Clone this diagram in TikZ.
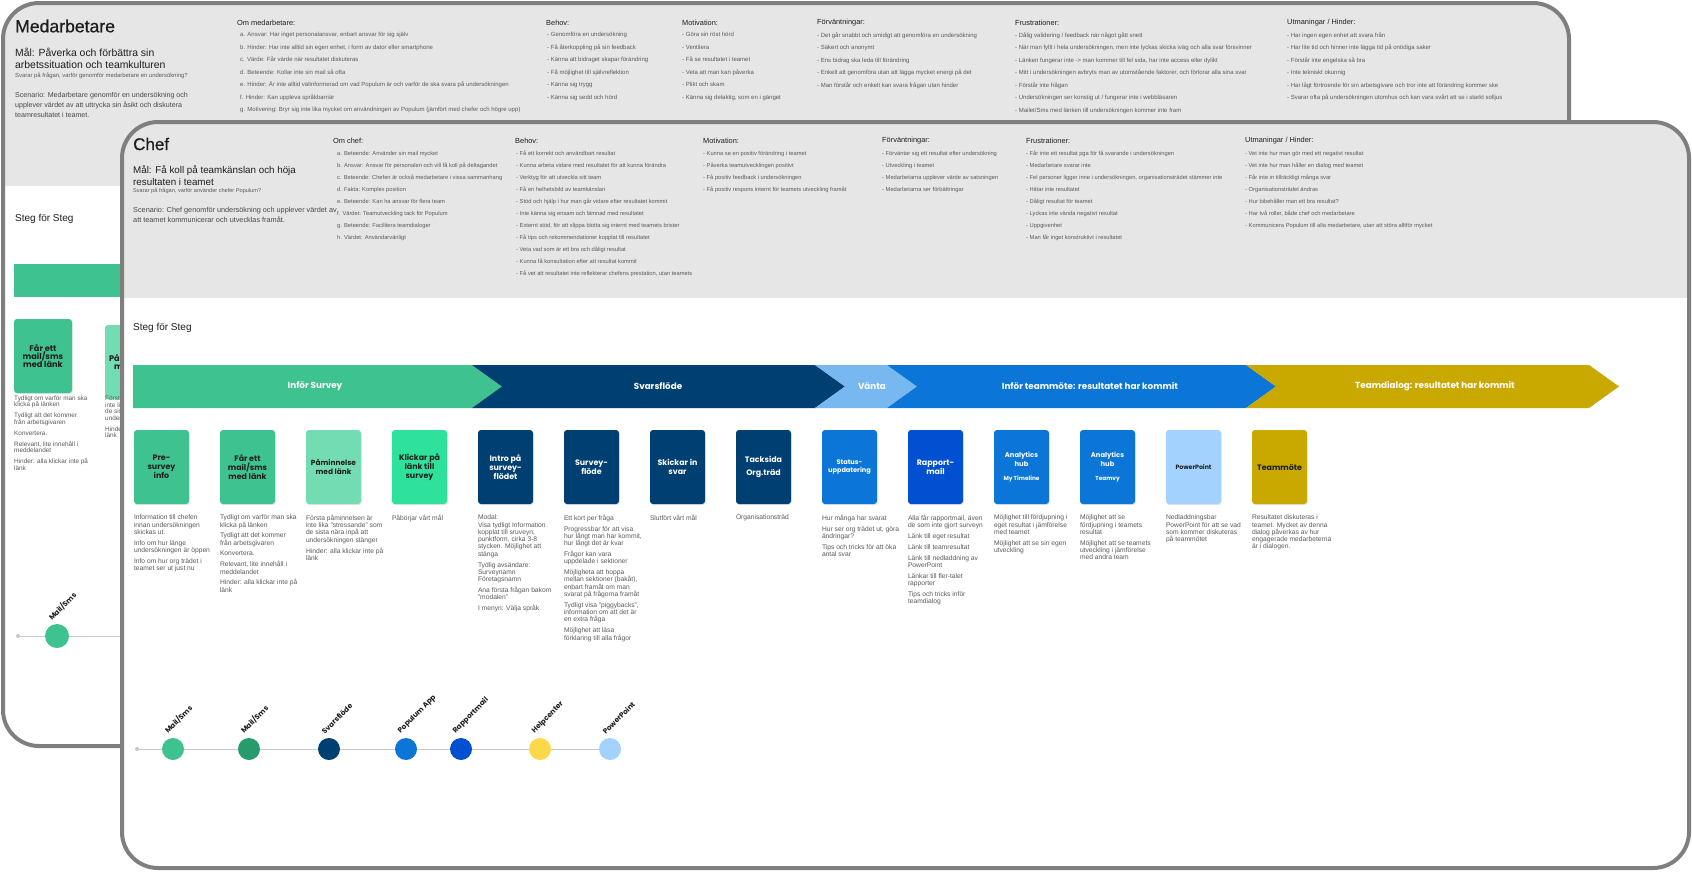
\documentclass[tikz,border=0pt]{standalone}
\usepackage{fontspec}
\setmainfont{Liberation Sans}
\newfontfamily\boxfont{Poppins}
\newfontfamily\titlefont[FakeBold=0.6]{Liberation Sans}
\usetikzlibrary{calc,shadows}
\definecolor{hdr}{HTML}{E6E6E6}
\definecolor{brd}{HTML}{7F7F7F}
\definecolor{gA}{HTML}{3EC28F}
\definecolor{gB}{HTML}{74DCB2}
\definecolor{gC}{HTML}{2EE29B}
\definecolor{gD}{HTML}{279B6C}
\definecolor{nv}{HTML}{003F72}
\definecolor{lb}{HTML}{78B8F0}
\definecolor{bl}{HTML}{0B76D8}
\definecolor{rb}{HTML}{0050D1}
\definecolor{pp}{HTML}{A3D2FF}
\definecolor{gd}{HTML}{C9A800}
\definecolor{yl}{HTML}{FFD84A}
\definecolor{txt}{HTML}{1E1E1E}
\definecolor{itm}{HTML}{5A5A5A}
\definecolor{tline}{HTML}{C8C8C8}
\tikzset{
  lbl/.style={anchor=west, inner sep=0pt, text=txt},
  hd/.style={lbl, font=\fontsize{7.4}{8}\selectfont},
  lstA/.style={anchor=north west, inner sep=0pt, align=left, text=itm, font=\fontsize{6.0}{12.5}\selectfont},
  lstB/.style={anchor=north west, inner sep=0pt, align=left, text=itm, font=\fontsize{5.75}{12}\selectfont},
  stepbox/.style={minimum width=55pt, minimum height=74pt, rounded corners=3pt, inner sep=0pt, align=center,
     font=\boxfont\bfseries\fontsize{7.9}{8.8}\selectfont, drop shadow={opacity=0.2, shadow xshift=0.6pt, shadow yshift=-1.2pt}},
  desc/.style={anchor=north west, inner sep=0pt, align=left, text=itm, font=\fontsize{6.7}{7.3}\selectfont},
  bdesc/.style={desc, font=\fontsize{6.4}{6.5}\selectfont},
  band/.style={inner sep=0pt, text=white, font=\boxfont\bfseries\fontsize{8.8}{9}\selectfont},
  dotc/.style={circle, inner sep=0pt, minimum size=22pt},
  smalldot/.style={circle, fill=tline, inner sep=0pt, minimum size=4pt},
  clab/.style={anchor=south west, rotate=45, inner sep=0pt, text=txt, font=\boxfont\bfseries\fontsize{7.2}{8}\selectfont},
  tl/.style={draw=tline, line width=0.8pt}
}
\begin{document}
\begin{tikzpicture}[x=1pt,y=-1pt]
\useasboundingbox (0,0) rectangle (1692,871);
% ================= BACK CARD =================
\begin{scope}
\clip[rounded corners=36pt] (3,3) rectangle (1569,746);
\fill[white] (3,3) rectangle (1569,746);
\fill[hdr] (3,3) rectangle (1569,186);
\end{scope}
\node[lbl, font=\titlefont\fontsize{17.6}{20}\selectfont] (mtitle) at (15,26) {Medarbetare};
\node[anchor=north west, inner sep=0pt, align=left, text=txt, font=\fontsize{10.4}{11.8}\selectfont] (mmal) at (15,48) {Mål: Påverka och förbättra sin\\arbetssituation och teamkulturen};
\node[anchor=base west, inner sep=0pt, text=itm, font=\fontsize{5.9}{6}\selectfont] (msv) at (15,77.3) {Svarar på frågan, varför genomför medarbetare en undersökning?};
\node[anchor=north west, inner sep=0pt, align=left, text=itm!80!black, font=\fontsize{7.1}{10}\selectfont] (msc) at (15,92) {Scenario: Medarbetare genomför en undersökning och\\upplever värdet av att uttrycka sin åsikt och diskutera\\teamresultatet i teamet.};
\node[hd] (mh1) at (237,23) {Om medarbetare:};
\node[lstA] (ml1) at (240,32) {a. Ansvar: Har inget personalansvar, enbart ansvar för sig själv\\b. Hinder: Har inte alltid sin egen enhet, i form av dator eller smartphone\\c. Värde: Får värde när resultatet diskuteras\\d. Beteende: Kollar inte sin mail så ofta\\e. Hinder: Är inte alltid välinformerad om vad Populum är och varför de ska svara på undersökningen\\f. Hinder: Kan uppleva språkbarriär\\g. Motivering: Bryr sig inte lika mycket om användningen av Populum (jämfört med chefer och högre upp)};
\node[hd] (mh2) at (546,23) {Behov:};
\node[lstA] (ml2) at (547,32) {- Genomföra en undersökning\\- Få återkoppling på sin feedback\\- Känna att bidraget skapar förändring\\- Få möjlighet till självreflektion\\- Känna sig trygg\\- Känna sig sedd och hörd};
\node[hd] (mh3) at (682,23) {Motivation:};
\node[lstA] (ml3) at (682,32) {- Göra sin röst hörd\\- Ventilera\\- Få se resultatet i teamet\\- Veta att man kan påverka\\- Plikt och skam\\- Känna sig delaktig, som en i gänget};
\node[hd] (mh4) at (817,23) {Förväntningar:};
\node[lstA] (ml4) at (817,32) {- Det går snabbt och smidigt att genomföra en undersökning\\- Säkert och anonymt\\- Ens bidrag ska leda till förändring\\- Enkelt att genomföra utan att lägga mycket energi på det\\- Man förstår och enkelt kan svara frågan utan hinder};
\node[hd] (mh5) at (1015,23) {Frustrationer:};
\node[lstA] (ml5) at (1015,32) {- Dålig validering / feedback när något gått snett\\- När man fyllt i hela undersökningen, men inte lyckas skicka iväg och alla svar försvinner\\- Länken fungerar inte -> man kommer till fel sida, har inte access eller dylikt\\- Mitt i undersökningen avbryts man av utomstående faktorer, och förlorar alla sina svar\\- Förstår inte frågan\\- Undersökningen ser konstig ut / fungerar inte i webbläsaren\\- Mailet/Sms med länken till undersökningen kommer inte fram};
\node[hd] (mh6) at (1287,23) {Utmaningar / Hinder:};
\node[lstA] (ml6) at (1287,32) {- Har ingen egen enhet att svara från\\- Har lite tid och hinner inte lägga tid på onödiga saker\\- Förstår inte engelska så bra\\- Inte tekniskt okunnig\\- Har lågt förtroende för sin arbetsgivare och tror inte att förändring kommer ske\\- Svarar ofta på undersökningen utomhus och kan vara svårt att se i starkt solljus};
\node[lbl, font=\fontsize{10}{11}\selectfont] (msteg) at (15,219) {Steg för Steg};
\fill[gA] (14,264) rectangle (330,297);
\node[stepbox, fill=gA, text=txt, minimum width=58pt, font=\boxfont\bfseries\fontsize{8.2}{8.4}\selectfont] (mb1) at (43,356) {Får ett\\mail/sms\\med länk};
\node[stepbox, fill=gB, text=txt, minimum width=58pt, font=\boxfont\bfseries\fontsize{8.2}{8.4}\selectfont] (mb2) at (134,362) {Påminnelse\\med länk};
\node[bdesc] (md1) at (14,395.5) {Tydligt om varför man ska\\klicka på länken\\[4.5pt]Tydligt att det kommer\\från arbetsgivaren\\[4.5pt]Konvertera.\\[4.5pt]Relevant, lite innehåll i\\meddelandet\\[4.5pt]Hinder: alla klickar inte på\\länk};
\node[bdesc] (md2) at (105,395.5) {Första påminnelsen är\\inte lika "stressande" som\\de sista nära inpå att\\undersökningen stänger\\[4.5pt]Hinder: alla klickar inte på\\länk};
\node[smalldot] (mdot) at (18,636) {};
\node[dotc, fill=gA, minimum size=24pt] (mc1) at (57,636) {};
\coordinate (mend) at (200,636);
\draw[tl] (mdot) -- (mc1) -- (mend);
\node[clab] (mcl1) at ($(mc1)+(-4,-14)$) {Mail/Sms};
\draw[brd, line width=4pt, rounded corners=36pt] (3,3) rectangle (1569,746);
% ================= FRONT CARD =================
\begin{scope}
\clip[rounded corners=36pt] (122,122) rectangle (1689,868);
\fill[white] (122,122) rectangle (1689,868);
\fill[hdr] (122,122) rectangle (1689,298);
\end{scope}
\node[lbl, font=\titlefont\fontsize{17}{20}\selectfont] (ctitle) at (133,144) {Chef};
\node[anchor=north west, inner sep=0pt, align=left, text=txt, font=\fontsize{9.8}{11.7}\selectfont] (cmal) at (133,165.5) {Mål: Få koll på teamkänslan och höja\\resultaten i teamet};
\node[anchor=base west, inner sep=0pt, text=itm, font=\fontsize{5.6}{6}\selectfont] (csv) at (133,192.7) {Svarar på frågan, varför använder chefer Populum?};
\node[anchor=north west, inner sep=0pt, align=left, text=itm!80!black, font=\fontsize{7.3}{9.6}\selectfont] (csc) at (133,207) {Scenario: Chef genomför undersökning och upplever värdet av\\att teamet kommunicerar och utvecklas framåt.};
\node[hd] (ch1) at (333,141) {Om chef:};
\node[lstB] (cl1) at (337,151) {a. Beteende: Använder sin mail mycket\\b. Ansvar: Ansvar för personalen och vill få koll på deltagandet\\c. Beteende: Chefen är också medarbetare i vissa sammanhang\\d. Fakta: Komplex position\\e. Beteende: Kan ha ansvar för flera team\\f. Värdet: Teamutveckling tack för Populum\\g. Beteende: Facilitera teamdialoger\\h. Värdet: Användarvänligt};
\node[hd] (ch2) at (515,141) {Behov:};
\node[lstB] (cl2) at (516,151) {- Få ett korrekt och användbart resultat\\- Kunna arbeta vidare med resultatet för att kunna förändra\\- Verktyg för att utveckla sitt team\\- Få en helhetsbild av teamkänslan\\- Stöd och hjälp i hur man går vidare efter resultatet kommit\\- Inte känna sig ensam och lämnad med resultatet\\- Externt stöd, för att slippa blotta sig internt med teamets brister\\- Få tips och rekommendationer kopplat till resultatet\\- Veta vad som är ett bra och dåligt resultat\\- Kunna få konsultation efter att resultat kommit\\- Få vet att resultatet inte reflekterar chefens prestation, utan teamets};
\node[hd] (ch3) at (703,141) {Motivation:};
\node[lstB] (cl3) at (703,151) {- Kunna se en positiv förändring i teamet\\- Påverka teamutvecklingen positivt\\- Få positiv feedback i undersökningen\\- Få positiv respons internt för teamets utveckling framåt};
\node[hd] (ch4) at (882,141) {Förväntningar:};
\node[lstB] (cl4) at (882,151) {- Förväntar sig ett resultat efter undersökning\\- Utveckling i teamet\\- Medarbetarna upplever värde av satsningen\\- Medarbetarna ser förbättringar};
\node[hd] (ch5) at (1026,141) {Frustrationer:};
\node[lstB] (cl5) at (1026,151) {- Får inte ett resultat pga för få svarande i undersökningen\\- Medarbetare svarar inte\\- Fel personer ligger inne i undersökningen, organisationsträdet stämmer inte\\- Hittar inte resultatet\\- Dåligt resultat för teamet\\- Lyckas inte vända negativt resultat\\- Uppgivenhet\\- Man får inget konstruktivt i resultatet};
\node[hd] (ch6) at (1245,141) {Utmaningar / Hinder:};
\node[lstB] (cl6) at (1245,151) {- Vet inte hur man gör med ett negativt resultat\\- Vet inte hur man håller en dialog med teamet\\- Får inte in tillräckligt många svar\\- Organisationsträdet ändras\\- Hur bibehåller man ett bra resultat?\\- Har två roller, både chef och medarbetare\\- Kommunicera Populum till alla medarbetare, utan att störa alltför mycket};
\node[lbl, font=\fontsize{10}{11}\selectfont] (csteg) at (133,328) {Steg för Steg};
% phase band
\fill[gA] (133,365) -- (472,365) -- (502,386.5) -- (472,408) -- (133,408) -- cycle;
\fill[nv] (472,365) -- (815,365) -- (845,386.5) -- (815,408) -- (472,408) -- (502,386.5) -- cycle;
\fill[lb] (815,365) -- (887,365) -- (917,386.5) -- (887,408) -- (815,408) -- (845,386.5) -- cycle;
\fill[bl] (887,365) -- (1246,365) -- (1276,386.5) -- (1246,408) -- (887,408) -- (917,386.5) -- cycle;
\fill[gd] (1246,365) -- (1589,365) -- (1619,386.5) -- (1589,408) -- (1246,408) -- (1276,386.5) -- cycle;
\node[band] (p1) at (315,386.5) {Inför Survey};
\node[band] (p2) at (658,386.5) {Svarsflöde};
\node[band] (p3) at (872,386.5) {Vänta};
\node[band] (p4) at (1090,386.5) {Inför teammöte: resultatet har kommit};
\node[band] (p5) at (1435,386.5) {Teamdialog: resultatet har kommit};
% step boxes
\node[stepbox, fill=gA, text=txt] (b1) at (161.5,467) {Pre-\\survey\\info};
\node[stepbox, fill=gA, text=txt] (b2) at (247.5,467) {Får ett\\mail/sms\\med länk};
\node[stepbox, fill=gB, text=txt, font=\boxfont\bfseries\fontsize{7.4}{8.4}\selectfont] (b3) at (333.5,467) {Påminnelse\\med länk};
\node[stepbox, fill=gC, text=txt] (b4) at (419.5,467) {Klickar på\\länk till\\survey};
\node[stepbox, fill=nv, text=white] (b5) at (505.5,467) {Intro på\\survey-\\flödet};
\node[stepbox, fill=nv, text=white] (b6) at (591.5,467) {Survey-\\flöde};
\node[stepbox, fill=nv, text=white] (b7) at (677.5,467) {Skickar in\\svar};
\node[stepbox, fill=nv, text=white] (b8) at (763.5,467) {Tacksida\\[4pt]Org.träd};
\node[stepbox, fill=bl, text=white, font=\boxfont\bfseries\fontsize{6.6}{8}\selectfont] (b9) at (849.5,467) {Status-\\uppdatering};
\node[stepbox, fill=rb, text=white] (b10) at (935.5,467) {Rapport-\\mail};
\node[stepbox, fill=bl, text=white, font=\boxfont\bfseries\fontsize{6.8}{8.6}\selectfont] (b11) at (1021.5,467) {Analytics\\hub\\[5pt]{\fontsize{5.8}{6}\selectfont My Timeline}};
\node[stepbox, fill=bl, text=white, font=\boxfont\bfseries\fontsize{6.8}{8.6}\selectfont] (b12) at (1107.5,467) {Analytics\\hub\\[5pt]{\fontsize{5.8}{6}\selectfont Teamvy}};
\node[stepbox, fill=pp, text=txt, font=\boxfont\bfseries\fontsize{6.2}{7}\selectfont] (b13) at (1193.5,467) {PowerPoint};
\node[stepbox, fill=gd, text=txt] (b14) at (1279.5,467) {Teammöte};
% descriptions
\node[desc] (d1) at ($(b1.south west)+(0,10.5)$) {Information till chefen\\innan undersökningen\\skickas ut.\\[3.5pt]Info om hur länge\\undersökningen är öppen\\[3.5pt]Info om hur org trädet i\\teamet ser ut just nu};
\node[desc] (d2) at ($(b2.south west)+(0,10.5)$) {Tydligt om varför man ska\\klicka på länken\\[3.5pt]Tydligt att det kommer\\från arbetsgivaren\\[3.5pt]Konvertera.\\[3.5pt]Relevant, lite innehåll i\\meddelandet\\[3.5pt]Hinder: alla klickar inte på\\länk};
\node[desc] (d3) at ($(b3.south west)+(0,10.5)$) {Första påminnelsen är\\inte lika "stressande" som\\de sista nära inpå att\\undersökningen stänger\\[3.5pt]Hinder: alla klickar inte på\\länk};
\node[desc] (d4) at ($(b4.south west)+(0,10.5)$) {Påbörjar vårt mål};
\node[desc] (d5) at ($(b5.south west)+(0,10.5)$) {Modal:\\Visa tydligt Information\\kopplat till sruveyn,\\punktform, cirka 3-8\\stycken. Möjlighet att\\stänga\\[3.5pt]Tydlig avsändare:\\Surveynamn\\Företagsnamn\\[3.5pt]Ana första frågan bakom\\"modalen"\\[3.5pt]I menyn: Välja språk};
\node[desc] (d6) at ($(b6.south west)+(0,10.5)$) {Ett kort per fråga\\[3.5pt]Progressbar för att visa\\hur långt man har kommit,\\hur långt det är kvar\\[3.5pt]Frågor kan vara\\uppdelade i sektioner\\[3.5pt]Möjligheta att hoppa\\mellan sektioner (bakåt),\\enbart framåt om man\\svarat på frågorna framåt\\[3.5pt]Tydligt visa "piggybacks",\\information om att det är\\en extra fråga\\[3.5pt]Möjlighet att läsa\\förklaring till alla frågor};
\node[desc] (d7) at ($(b7.south west)+(0,10.5)$) {Slutfört vårt mål};
\node[desc] (d8) at ($(b8.south west)+(0,10.5)$) {Organisationsträd};
\node[desc] (d9) at ($(b9.south west)+(0,10.5)$) {Hur många har svarat\\[3.5pt]Hur ser org trädet ut, göra\\ändringar?\\[3.5pt]Tips och tricks för att öka\\antal svar};
\node[desc] (d10) at ($(b10.south west)+(0,10.5)$) {Alla får rapportmail, även\\de som inte gjort surveyn\\[3.5pt]Länk till eget resultat\\[3.5pt]Länk till teamresultat\\[3.5pt]Länk till nedladdning av\\PowerPoint\\[3.5pt]Länkar till fler-talet\\rapporter\\[3.5pt]Tips och tricks inför\\teamdialog};
\node[desc] (d11) at ($(b11.south west)+(0,10.5)$) {Möjlighet till fördjupning i\\eget resultat i jämförelse\\med teamet\\[3.5pt]Möjlighet att se sin egen\\utveckling};
\node[desc] (d12) at ($(b12.south west)+(0,10.5)$) {Möjlighet att se\\fördjupning i teamets\\resultat\\[3.5pt]Möjlighet att se teamets\\utveckling i jämförelse\\med andra team};
\node[desc] (d13) at ($(b13.south west)+(0,10.5)$) {Nedladdningsbar\\PowerPoint för att se vad\\som kommer diskuteras\\på teammötet};
\node[desc] (d14) at ($(b14.south west)+(0,10.5)$) {Resultatet diskuteras i\\teamet. Mycket av denna\\dialog påverkas av hur\\engagerade medarbeterna\\är i dialogen.};
% channels
\node[smalldot] (cdot) at (137,749) {};
\node[dotc, fill=gA] (c1) at (173,749) {};
\node[dotc, fill=gD] (c2) at (249,749) {};
\node[dotc, fill=nv] (c3) at (329,749) {};
\node[dotc, fill=bl] (c4) at (406,749) {};
\node[dotc, fill=rb] (c5) at (461,749) {};
\node[dotc, fill=yl] (c6) at (540,749) {};
\node[dotc, fill=pp] (c7) at (610,749) {};
\draw[tl] (cdot) -- (c1) -- (c2) -- (c3) -- (c4) -- (c5) -- (c6) -- (c7);
\node[clab] (l1) at ($(c1)+(-4,-14)$) {Mail/Sms};
\node[clab] (l2) at ($(c2)+(-4,-14)$) {Mail/Sms};
\node[clab] (l3) at ($(c3)+(-4,-14)$) {Svarsflöde};
\node[clab] (l4) at ($(c4)+(-4,-14)$) {Populum App};
\node[clab] (l5) at ($(c5)+(-4,-14)$) {Rapportmail};
\node[clab] (l6) at ($(c6)+(-4,-14)$) {Helpcenter};
\node[clab] (l7) at ($(c7)+(-4,-14)$) {PowerPoint};
\draw[brd, line width=4pt, rounded corners=36pt] (122,122) rectangle (1689,868);
\end{tikzpicture}
\end{document}
